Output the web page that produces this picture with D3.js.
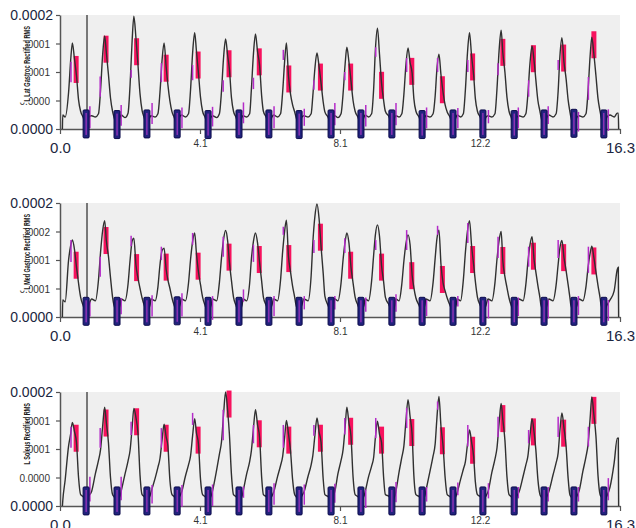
<!DOCTYPE html>
<html><head><meta charset="utf-8">
<script src="https://cdn.jsdelivr.net/npm/d3@7"></script>
<style>body{margin:0;background:#fff} svg{display:block;font-family:"Liberation Sans",Arial,sans-serif}</style>
</head><body><svg id="c" width="636" height="528"></svg>
<script>
// shared sample times (s)
const time = [
0.07,0.08,0.15,0.25,0.31,0.36,0.42,0.48,0.54,0.60,0.67,0.76,0.84,
0.92,1.03,1.12,1.18,1.24,1.30,1.35,1.41,1.47,1.53,1.57,1.66,1.75,
1.78,1.89,1.98,2.04,2.10,2.15,2.21,2.27,2.33,2.39,2.45,2.53,2.62,
2.65,2.77,2.85,2.91,2.97,3.03,3.09,3.14,3.20,3.26,3.32,3.41,3.49,
3.54,3.65,3.74,3.80,3.86,3.92,3.97,4.03,4.09,4.15,4.22,4.31,4.40,
4.44,4.56,4.64,4.70,4.76,4.82,4.88,4.93,4.99,5.05,5.12,5.21,5.30,
5.33,5.43,5.52,5.57,5.63,5.69,5.75,5.81,5.87,5.92,6.00,6.08,6.17,
6.22,6.33,6.42,6.48,6.54,6.59,6.65,6.71,6.77,6.83,6.87,6.96,7.04,
7.10,7.22,7.31,7.36,7.42,7.48,7.54,7.60,7.66,7.71,7.80,7.89,7.96,
8.00,8.09,8.18,8.24,8.30,8.35,8.41,8.47,8.53,8.59,8.67,8.76,8.85,
8.88,8.98,9.07,9.13,9.18,9.24,9.30,9.36,9.42,9.47,9.58,9.66,9.75,
9.78,9.87,9.95,10.01,10.07,10.13,10.19,10.25,10.30,10.36,10.45,10.54,10.62,
10.65,10.77,10.86,10.92,10.97,11.03,11.09,11.15,11.21,11.27,11.35,11.44,11.53,
11.56,11.66,11.74,11.80,11.86,11.92,11.98,12.04,12.09,12.15,12.23,12.31,12.40,
12.46,12.57,12.66,12.72,12.78,12.84,12.89,12.95,13.01,13.07,13.13,13.22,13.30,
13.36,13.48,13.56,13.62,13.68,13.74,13.80,13.85,13.91,13.97,14.00,14.09,14.18,
14.23,14.35,14.44,14.50,14.55,14.61,14.67,14.73,14.79,14.84,14.87,14.96,15.05,
15.11,15.22,15.31,15.37,15.43,15.48,15.54,15.60,15.66,15.72,15.75,15.83,15.92,
16.01,16.13,16.22,16.25,16.26];

// RMS values, in units of 1e-6
const latGastroc = [
0,22,19,58,108,136,111,84,46,28,19,6,19,
21,19,24,61,116,147,120,86,49,28,19,6,19,
22,18,25,70,140,178,144,101,55,29,18,5,19,
21,19,24,58,108,136,98,70,44,27,19,6,20,
22,19,24,62,120,152,124,88,50,28,19,6,19,
21,18,24,59,112,142,116,95,50,28,19,5,19,
21,19,24,62,118,150,122,100,52,28,19,6,19,
22,19,24,58,108,136,84,55,38,27,19,6,19,
21,19,24,53,96,120,99,72,43,27,19,6,19,
21,18,24,56,103,129,106,76,45,28,19,6,19,
22,19,24,64,125,159,118,72,45,28,19,6,19,
21,19,24,55,102,128,105,88,48,28,19,6,19,
21,19,24,52,94,118,85,58,38,27,19,6,19,
22,19,24,62,120,152,115,85,48,28,19,6,19,
21,19,24,64,123,156,120,90,50,28,19,6,19,
21,19,24,56,104,131,107,78,45,28,19,6,19,
22,19,24,60,114,144,105,80,46,28,19,6,19,
21,19,24,60,115,145,118,84,48,28,19,6,19,
22,19,25,25,0];
const medGastroc = [
0,36,32,120,150,162,143,105,71,42,25,12,25,
38,34,78,136,181,203,160,128,83,42,25,12,25,
38,34,69,120,160,166,110,82,60,40,25,12,25,
38,34,63,110,140,145,100,78,60,40,25,12,25,
38,34,71,121,159,177,135,95,68,42,25,12,25,
38,34,73,124,163,182,160,116,77,42,25,12,25,
38,34,71,121,159,177,156,114,75,42,25,12,25,
38,34,78,137,182,204,128,95,65,42,25,12,25,
38,34,87,157,212,238,208,147,93,44,25,12,25,
38,34,71,121,159,177,156,105,72,42,25,12,25,
38,34,76,131,173,194,170,108,74,42,25,12,25,
38,34,70,118,155,173,152,88,62,40,25,12,25,
38,34,73,124,164,183,110,72,55,40,25,12,25,
38,34,78,136,181,203,150,110,75,42,25,12,25,
38,34,72,122,161,180,118,85,62,40,25,12,25,
38,34,69,116,152,169,120,95,66,40,25,12,25,
38,34,67,111,145,161,125,98,68,42,25,12,25,
38,34,64,104,134,149,125,95,66,40,25,12,25,
36,55,100,105,0];
const soleus = [
0,8,41,95,114,132,118,100,45,18,15,9,16,
23,51,72,89,125,156,131,100,45,18,15,9,16,
23,50,71,88,124,154,140,115,48,18,15,9,16,
22,44,61,75,104,129,109,95,40,18,15,9,16,
22,47,65,79,111,138,116,98,42,18,15,9,16,
24,57,82,101,144,180,150,114,50,18,15,9,16,
23,50,70,87,122,152,128,108,45,18,15,9,16,
22,46,64,78,109,135,114,87,42,18,15,9,16,
22,47,65,80,112,139,117,100,43,18,15,9,16,
23,51,72,89,125,156,131,110,46,18,15,9,16,
22,46,63,77,108,134,113,100,45,18,15,9,16,
24,54,77,95,135,168,141,112,48,18,15,9,16,
24,55,79,98,138,173,125,95,45,18,15,9,16,
21,42,58,70,97,120,101,78,38,18,15,9,16,
23,53,74,92,130,162,136,104,46,18,15,9,16,
22,47,65,79,111,138,116,89,42,18,15,9,16,
23,49,68,84,118,147,123,95,44,18,15,9,16,
24,55,78,97,138,172,144,110,48,18,15,9,16,
30,68,107,107,0];

// event markers
const heelTimes = [0.76,1.66,2.53,3.41,4.31,5.21,6.08,6.96,7.89,8.76,9.66,10.54,11.44,12.31,13.22,14.09,14.96,15.83];
const latHeel = [8,7,8,8,7,8,8,7,8,8,8,7,8,8,7,8,9,8];
const medHeel = [12,12,12,13,12,12,12,12,12,12,12,12,12,12,12,12,12,12];
const solHeel = [8,8,8,8,8,8,8,8,8,8,8,8,8,8,8,8,8,8];

const redTimes = [0.47,1.34,2.23,3.09,4.02,4.92,5.80,6.66,7.58,8.46,9.36,10.24,11.13,12.01,12.89,13.78,14.66,15.54];
const latRed = [94,126,122,96,101,103,106,79,82,82,69,91,62,98,121,111,112,133];
const medRed = [109,161,104,105,107,126,121,123,168,109,105,87,79,121,119,128,125,118];
const solRed = [107,131,133,107,104,161,114,104,107,118,104,116,103,88,138,117,115,151];

const riseTimes = [0.32,1.17,2.07,2.95,3.86,4.75,5.63,6.50,7.39,8.29,9.19,10.09,10.99,11.87,12.75,13.64,14.50,15.38];
const latRise = [[74,106],[51,83],[81,93],[74,104],[77,101],[59,77],[63,81],[109,125],[62,77],[77,90],[114,129],[90,112],[90,112],[90,109],[85,104],[51,77],[93,109],[46,82]];
const medRise = [[116,162],[85,127],[149,171],[120,148],[152,177],[127,169],[116,152],[173,190],[135,162],[135,166],[141,162],[141,183],[173,192],[156,198],[124,169],[106,148],[124,162],[93,148]];
const solRise = [[92,125],[92,123],[112,133],[92,123],[128,147],[104,152],[99,128],[92,128],[111,128],[113,139],[107,139],[123,155],[152,165],[94,128],[109,141],[99,120],[109,141],[94,125]];

const postTimes = [0.87,1.78,2.68,3.55,4.44,5.34,6.23,7.11,8.00,8.90,9.78,10.67,11.58,12.47,13.34,14.21,15.09,15.96];
const latPost = [[1,36],[5,38],[8,41],[1,34],[4,35],[9,42],[1,36],[5,32],[6,41],[4,38],[6,41],[1,34],[1,33],[9,30],[1,34],[8,36],[-4,27],[-3,31]];
const medPost = [[1,32],[6,40],[1,46],[1,50],[-6,44],[32,58],[2,44],[16,44],[16,44],[11,41],[11,48],[2,36],[22,44],[-3,36],[2,41],[-3,37],[4,44],[-8,36]];
const solPost = [[7,46],[9,46],[4,33],[-1,33],[0,34],[13,31],[2,36],[2,34],[5,35],[-3,26],[6,38],[7,30],[17,37],[12,36],[12,30],[7,30],[7,30],[9,44]];

const cursorTime = 0.786;

const xTicks = [0, 4.075, 8.15, 12.225, 16.3];
const xTickLabels = ["0.0","4.1","8.1","12.2","16.3"];
const yMaxes = [180, 240, 180];
const yTicksA = [0, 45, 90, 135, 180];
const yLabelsA = ["0.0000","0.0000","0.0001","0.0001","0.0002"];
const yTicksB = [0, 60, 120, 180, 240];
const yLabelsB = ["0.0000","0.0001","0.0001","0.0002","0.0002"];
const titles = ["L Lat Gastroc Rectified RMS","L Med Gastroc Rectified RMS","L Soleus Rectified RMS"];

const panels = [
  {title: titles[0], values: latGastroc, yMax: yMaxes[0], ticks: yTicksA, labels: yLabelsA, red: latRed, heel: latHeel, rise: latRise, post: latPost},
  {title: titles[1], values: medGastroc, yMax: yMaxes[1], ticks: yTicksB, labels: yLabelsB, red: medRed, heel: medHeel, rise: medRise, post: medPost},
  {title: titles[2], values: soleus, yMax: yMaxes[2], ticks: yTicksA, labels: yLabelsA, red: solRed, heel: solHeel, rise: solRise, post: solPost}
];

const svg = d3.select("#c");
const x = d3.scaleLinear().domain([0, 16.3]).range([60, 620]);
const tops = [15, 203, 392];
const H = 114;
const axisColor = "#555";
const mag = "#b42bc8";

panels.forEach((p, i) => {
  const top = tops[i], bottom = top + H;
  const y = d3.scaleLinear().domain([0, p.yMax]).range([bottom, top]);
  const g = svg.append("g");

  g.append("rect").attr("x", x(0)).attr("y", top).attr("width", x(16.3) - x(0)).attr("height", H).attr("fill", "#efefef");

  // x axis
  const xa = g.append("g").attr("transform", `translate(0,${bottom})`)
    .call(d3.axisBottom(x).tickValues(xTicks).tickFormat((d, j) => xTickLabels[j]).tickSize(5).tickSizeOuter(0));
  xa.select(".domain").attr("stroke", axisColor).attr("stroke-width", 1.5);
  xa.selectAll(".tick line").attr("stroke", axisColor).attr("stroke-width", 1.2);
  xa.selectAll(".tick text").each(function(d, j) {
    const big = (j === 0 || j === xTicks.length - 1);
    d3.select(this).attr("dy", 0).attr("y", big ? 24 : 18)
      .attr("font-size", big ? 15 : 10).attr("fill", big ? "#1b2640" : "#333")
      .attr("font-family", "Liberation Sans, Arial, sans-serif");
  });

  // y axis
  const ya = g.append("g").attr("transform", `translate(${x(0)},0)`)
    .call(d3.axisLeft(y).tickValues(p.ticks).tickFormat((d, j) => p.labels[j]).tickSize(4).tickSizeOuter(0));
  ya.select(".domain").attr("stroke", axisColor).attr("stroke-width", 1.5);
  ya.selectAll(".tick line").attr("stroke", axisColor).attr("stroke-width", 1.2);
  ya.selectAll(".tick text").each(function(d, j) {
    const big = (j === 0 || j === p.ticks.length - 1);
    d3.select(this).attr("x", big ? -7 : -10).attr("dy", "0.35em")
      .attr("font-size", big ? 14 : 10).attr("fill", big ? "#1b2640" : "#333")
      .attr("font-family", "Liberation Sans, Arial, sans-serif");
  });

  // y title
  const tLen = p.title.length * 2.8;
  const tEnd = top + 11;
  g.append("rect").attr("x", 18).attr("y", tEnd - 1).attr("width", 12).attr("height", tLen + 2).attr("fill", "#fff");
  g.append("text").attr("transform", `translate(30,${tEnd}) rotate(-90)`)
    .attr("text-anchor", "end").attr("font-size", 8.5).attr("font-weight", "bold").attr("fill", "#1a1a1a")
    .attr("textLength", tLen).attr("lengthAdjust", "spacingAndGlyphs").text(p.title);

  // cursor
  g.append("line").attr("x1", x(cursorTime)).attr("x2", x(cursorTime)).attr("y1", top).attr("y2", bottom)
    .attr("stroke", "#000").attr("stroke-width", 1);

  // red markers
  g.selectAll(".red").data(redTimes.map((t, j) => [t, p.red[j]])).join("rect")
    .attr("x", d => x(d[0]) - 2.5).attr("y", d => y(d[1]) - 13.5).attr("width", 5).attr("height", 27)
    .attr("fill", "#f7125e");

  // signal
  const pts = time.map((t, j) => [t, p.values[j]]).filter(d => d[1] !== undefined);
  const line = d3.line().x(d => x(d[0])).y(d => y(d[1])).curve(d3.curveMonotoneX);
  g.append("path").attr("d", line(pts)).attr("fill", "none").attr("stroke", "#303030").attr("stroke-width", 1.4);

  // magenta markers
  g.selectAll(".rise").data(riseTimes.map((t, j) => [t, p.rise[j]])).join("line")
    .attr("x1", d => x(d[0])).attr("x2", d => x(d[0])).attr("y1", d => y(d[1][0])).attr("y2", d => y(d[1][1]))
    .attr("stroke", mag).attr("stroke-width", 1.5);
  g.selectAll(".post").data(postTimes.map((t, j) => [t, p.post[j]])).join("line")
    .attr("x1", d => x(d[0])).attr("x2", d => x(d[0])).attr("y1", d => y(d[1][0])).attr("y2", d => y(d[1][1]))
    .attr("stroke", mag).attr("stroke-width", 1.5);

  // blue markers
  const hb = g.selectAll(".heel").data(heelTimes.map((t, j) => [t, p.heel[j]])).join("g")
    .attr("transform", d => `translate(${x(d[0])},${y(d[1])})`);
  hb.append("rect").attr("x", -3).attr("y", -14).attr("width", 6).attr("height", 28).attr("rx", 1)
    .attr("fill", "#22227e").attr("stroke", "#0a0a4a").attr("stroke-width", 1);
  hb.append("line").attr("x1", 0).attr("x2", 0).attr("y1", -11).attr("y2", 11)
    .attr("stroke", "#c03ad0").attr("stroke-width", 1);
});
</script>
</body></html>
